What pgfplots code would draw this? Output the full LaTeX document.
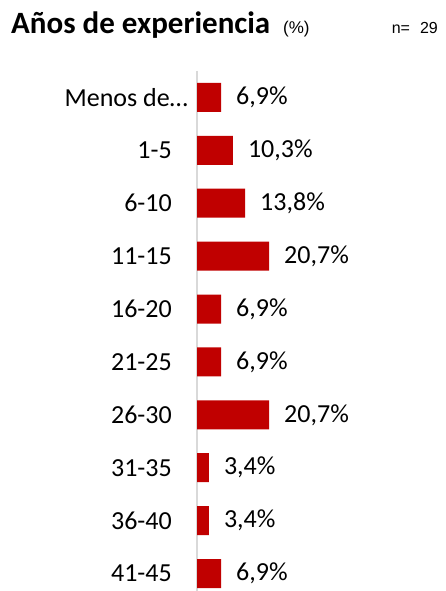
\documentclass[border=0pt]{standalone}
\usepackage{pgfplots}
\pgfplotsset{compat=1.18}
\usepackage{fontspec}
\setmainfont{Carlito}
\newfontfamily\arialfont{Liberation Sans}
\definecolor{barred}{HTML}{C00000}
\definecolor{axisgray}{HTML}{D9D9D9}

\begin{document}
\begin{tikzpicture}[x=1pt,y=1pt]
\useasboundingbox (0,0) rectangle (446,591);

% title and sample size
\node[anchor=base west, inner sep=0pt, font=\bfseries\fontsize{31}{33}\selectfont] at (11,557.5)
  {Años de experiencia};
\node[anchor=base west, inner sep=0pt, font=\arialfont\fontsize{17}{19}\selectfont] at (283,557.5)
  {(\%)};
\node[anchor=base east, inner sep=0pt, font=\arialfont\fontsize{16}{18}\selectfont] at (438,557.7)
  {n=\hspace{10pt}29};

\begin{axis}[
  at={(197pt,0pt)}, anchor=south west,
  scale only axis,
  width=208.8pt, height=520pt,
  xbar, bar width=29pt,
  xmin=0, xmax=60,
  ymin=-0.5, ymax=9.33,
  y dir=reverse,
  axis x line=none,
  axis y line=left,
  y axis line style={draw=axisgray, line width=2pt, -},
  ytick={0,...,9},
  yticklabels={Menos de…\kern-16pt\mbox{}, 1-5, 6-10, 11-15, 16-20, 21-25, 26-30, 31-35, 36-40, 41-45},
  major tick length=0pt,
  y tick label style={font=\fontsize{26}{28}\selectfont, inner sep=0pt, anchor=east},
  yticklabel shift=25pt,
  nodes near coords={\pgfmathprintnumber[fixed, fixed zerofill, precision=1, use comma, assume math mode=true]{\pgfplotspointmeta}\%},
  point meta=x,
  every node near coord/.append style={font=\fontsize{26}{28}\selectfont, anchor=west, inner sep=0pt, xshift=15pt},
  clip=false,
]
\addplot[fill=barred, draw=none] coordinates {
  (6.9,0) (10.3,1) (13.8,2) (20.7,3) (6.9,4)
  (6.9,5) (20.7,6) (3.4,7) (3.4,8) (6.9,9)
};
\end{axis}
\end{tikzpicture}
\end{document}
